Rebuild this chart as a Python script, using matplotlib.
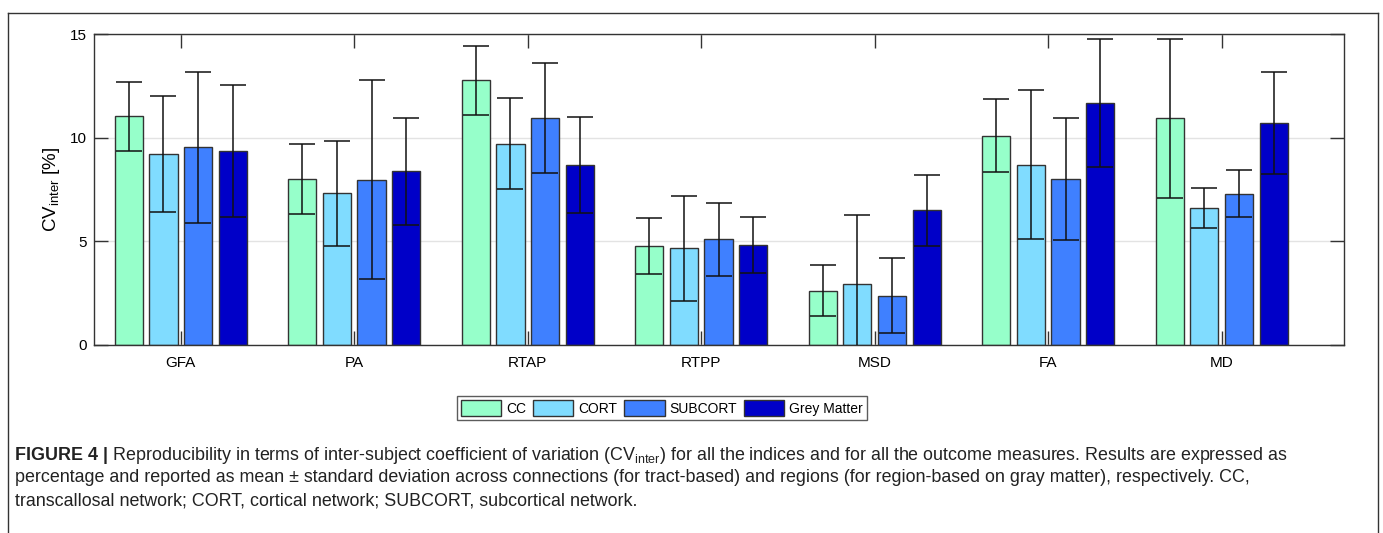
import numpy as np
import matplotlib
matplotlib.use('Agg')
import matplotlib.pyplot as plt
from matplotlib.lines import Line2D

plt.rcParams['font.family'] = ['Liberation Sans', 'DejaVu Sans']
plt.rcParams['mathtext.fontset'] = 'custom'
plt.rcParams['mathtext.rm'] = 'Liberation Sans'
plt.rcParams['mathtext.it'] = 'Liberation Sans:italic'
plt.rcParams['mathtext.bf'] = 'Liberation Sans:bold'

# data (mean, std)
indices = ['GFA', 'PA', 'RTAP', 'RTPP', 'MSD', 'FA', 'MD']
networks = ['CC', 'CORT', 'SUBCORT', 'Grey Matter']
cc_mean = [11.03, 8.02, 12.76, 4.78, 2.62, 10.09, 10.94]
cc_std = [1.67, 1.69, 1.66, 1.36, 1.23, 1.77, 3.84]
cort_mean = [9.22, 7.31, 9.71, 4.67, 2.93, 8.69, 6.62]
cort_std = [2.81, 2.52, 2.21, 2.53, 3.35, 3.60, 0.97]
sub_mean = [9.53, 7.97, 10.96, 5.10, 2.37, 8.02, 7.29]
sub_std = [3.64, 4.79, 2.66, 1.76, 1.81, 2.95, 1.13]
gm_mean = [9.34, 8.37, 8.68, 4.84, 6.49, 11.67, 10.69]
gm_std = [3.19, 2.56, 2.30, 1.35, 1.73, 3.08, 2.46]
colors = ['#96FFCA', '#80DCFF', '#3F80FF', '#0000C8']

caption_bold = 'FIGURE 4 |'
caption_1 = (' Reproducibility in terms of inter-subject coefficient of variation (CV$_{\\mathrm{inter}}$) '
             'for all the indices and for all the outcome measures. Results are expressed as')
caption_2 = ('percentage and reported as mean \u00b1 standard deviation across connections (for tract-based) '
             'and regions (for region-based on gray matter), respectively. CC,')
caption_3 = 'transcallosal network; CORT, cortical network; SUBCORT, subcortical network.'

W, H = 1383, 533
fig = plt.figure(figsize=(W / 100, H / 100), dpi=100)
ax = fig.add_axes([94 / W, 1 - 345 / H, (1344 - 94) / W, (345 - 34) / H])

means = [cc_mean, cort_mean, sub_mean, gm_mean]
stds = [cc_std, cort_std, sub_std, gm_std]
x = np.arange(1, len(indices) + 1)
offs = [-0.3, -0.1, 0.1, 0.3]
for m, s, c, o, name in zip(means, stds, colors, offs, networks):
    ax.bar(x + o, m, width=0.163, color=c, edgecolor='#333333', linewidth=1.0, label=name, zorder=2)
    ax.errorbar(x + o, m, yerr=s, fmt='none', ecolor='#111111', elinewidth=1.1,
                capsize=9.5, capthick=1.1, zorder=3)

ax.set_xlim(0.5, 7.705)
ax.set_ylim(0, 15)
ax.set_xticks(x)
ax.set_xticklabels(indices)
ax.set_yticks([0, 5, 10, 15])
ax.yaxis.grid(True, color='#e3e3e3', linewidth=1.0, zorder=0)
ax.set_axisbelow(True)
ax.tick_params(direction='in', length=10, width=1, color='#333333', labelsize=11,
               top=True, right=True)
ax.tick_params(axis='x', pad=8)
ax.tick_params(axis='y', pad=5)
for sp in ax.spines.values():
    sp.set_color('#333333')
    sp.set_linewidth(1.0)
ax.set_ylabel('CV$_{\\mathrm{inter}}$ [%]', fontsize=13.5, labelpad=6)

leg = fig.legend(loc='center', bbox_to_anchor=(662 / W, 1 - 408 / H), ncol=4, frameon=True,
                 fancybox=False, edgecolor='#333333', fontsize=10, handlelength=2.9,
                 handleheight=1.3, handletextpad=0.35, columnspacing=0.5, borderpad=0.3)
leg.get_frame().set_linewidth(1.0)

# outer frame of the figure panel
fx0, fx1, fy0 = 8 / W, 1378 / W, 1 - 13 / H
for xs, ys in [([fx0, fx1], [fy0, fy0]), ([fx0, fx0], [fy0, -0.01]), ([fx1, fx1], [fy0, -0.01])]:
    fig.add_artist(Line2D(xs, ys, transform=fig.transFigure, color='#333333', linewidth=1.0))

# caption
fig.canvas.draw()
r = fig.canvas.get_renderer()
cs = 12.9
t0 = fig.text(15 / W, 1 - 455 / H, caption_bold, fontsize=cs, fontweight='bold', va='center', color='#222222')
bb = t0.get_window_extent(renderer=r)
fig.text(bb.x1 / W, 1 - 455 / H, caption_1, fontsize=cs, va='center', color='#222222')
fig.text(15 / W, 1 - 478 / H, caption_2, fontsize=cs, va='center', color='#222222')
fig.text(15 / W, 1 - 501 / H, caption_3, fontsize=cs, va='center', color='#222222')

fig.savefig('out.png', dpi=100)
